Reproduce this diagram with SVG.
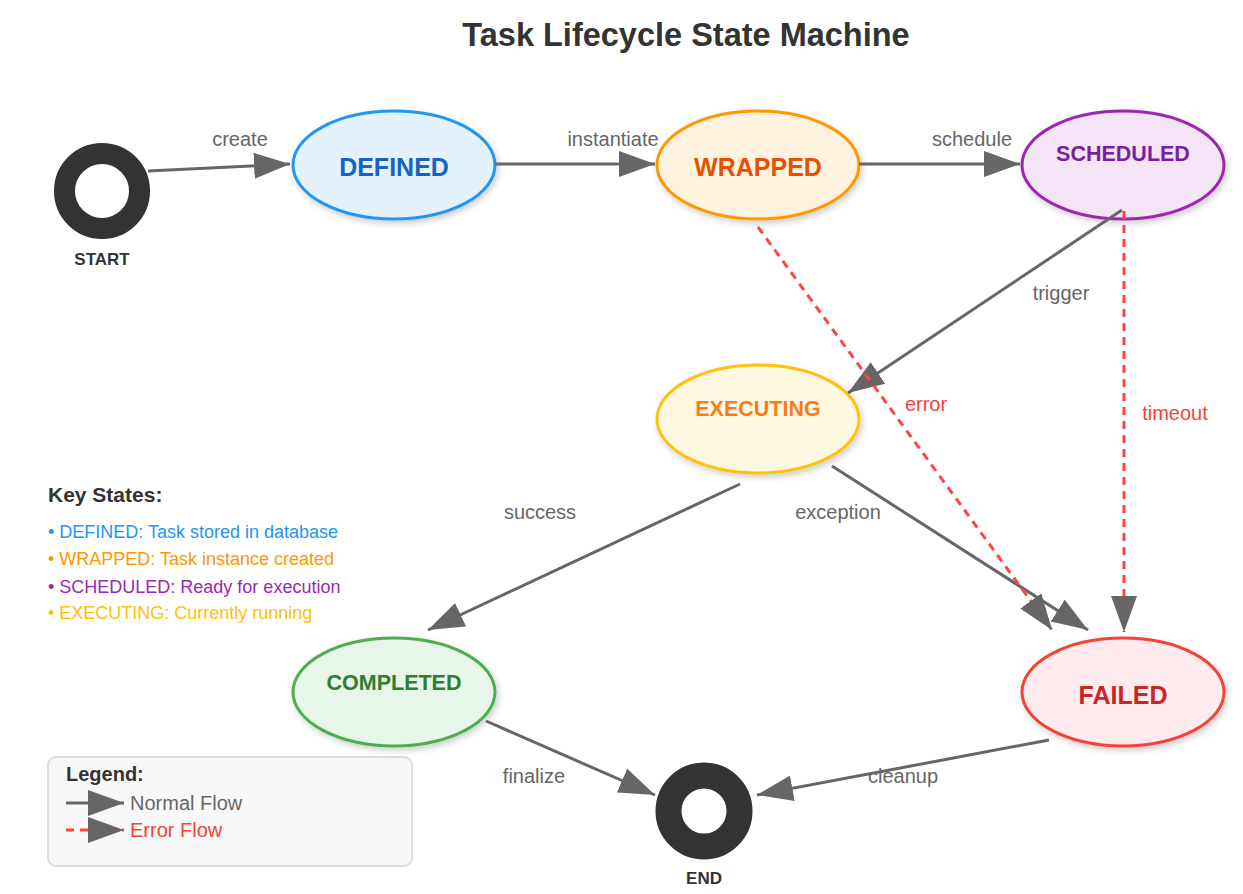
<svg xmlns="http://www.w3.org/2000/svg" width="1243" height="894" viewBox="0 0 1243 894">
<defs>
<marker id="arrow" markerUnits="userSpaceOnUse" markerWidth="36" markerHeight="26" viewBox="0 0 36 26" refX="36" refY="13" orient="auto">
<path d="M0,0 L36,13 L0,26 z" fill="#666"/>
</marker>
<filter id="shadow" x="-20%" y="-20%" width="140%" height="150%">
<feDropShadow dx="2" dy="3" stdDeviation="3" flood-color="#000" flood-opacity="0.2"/>
</filter>
</defs>
<style>
text{font-family:"Liberation Sans",Arial,Helvetica,sans-serif}
.title{font-size:32.5px;font-weight:bold;fill:#333;text-anchor:middle}
.state{stroke-width:3;filter:url(#shadow)}
.sname{font-weight:bold;text-anchor:middle}
.term{font-size:17px;font-weight:bold;fill:#333;text-anchor:middle}
.edge{fill:none;stroke:#666;stroke-width:3}
.err{fill:none;stroke:#ff4444;stroke-width:3;stroke-dasharray:8,6}
.lbl{font-size:20px;fill:#666;text-anchor:middle}
.elbl{font-size:20px;fill:#f44336;text-anchor:middle}
.key{font-size:18px}
</style>
<rect width="1243" height="894" fill="#fff"/>
<text class="title" x="686" y="46">Task Lifecycle State Machine</text>

<g id="start">
<circle cx="102" cy="191" r="37.5" fill="#fff" stroke="#333" stroke-width="21"/>
<text class="term" x="102" y="265">START</text>
</g>
<g id="end">
<circle cx="704" cy="811" r="35.5" fill="#fff" stroke="#333" stroke-width="26"/>
<text class="term" x="704" y="884">END</text>
</g>
<g id="defined">
<ellipse class="state" cx="394" cy="165" rx="101" ry="54" fill="#E3F2FD" stroke="#2196F3"/>
<text class="sname" x="394" y="176" font-size="25" fill="#1565C0">DEFINED</text>
</g>
<g id="wrapped">
<ellipse class="state" cx="758" cy="165" rx="101" ry="54" fill="#FFF3E0" stroke="#FF9800"/>
<text class="sname" x="758" y="176" font-size="25" fill="#E65100">WRAPPED</text>
</g>
<g id="scheduled">
<ellipse class="state" cx="1123" cy="165" rx="101" ry="54" fill="#F3E5F5" stroke="#9C27B0"/>
<text class="sname" x="1123" y="161" font-size="21.5" fill="#7B1FA2">SCHEDULED</text>
</g>
<g id="executing">
<ellipse class="state" cx="758" cy="419" rx="101" ry="54" fill="#FFF8E1" stroke="#FFC107"/>
<text class="sname" x="758" y="416" font-size="21.5" fill="#F57F17">EXECUTING</text>
</g>
<g id="completed">
<ellipse class="state" cx="394" cy="692" rx="101" ry="54" fill="#E8F5E9" stroke="#4CAF50"/>
<text class="sname" x="394" y="690" font-size="21.5" fill="#2E7D32">COMPLETED</text>
</g>
<g id="failed">
<ellipse class="state" cx="1123" cy="692" rx="101" ry="54" fill="#FFEBEE" stroke="#F44336"/>
<text class="sname" x="1123" y="704" font-size="25" fill="#C62828">FAILED</text>
</g>

<g id="connectors">
<line class="edge" x1="148" y1="171" x2="290" y2="164" marker-end="url(#arrow)"/>
<text class="lbl" x="240" y="146">create</text>
<line class="edge" x1="495" y1="164" x2="655" y2="164" marker-end="url(#arrow)"/>
<text class="lbl" x="613" y="146">instantiate</text>
<line class="edge" x1="859" y1="164" x2="1020" y2="164" marker-end="url(#arrow)"/>
<text class="lbl" x="972" y="146">schedule</text>
<line class="edge" x1="1122" y1="210" x2="848" y2="393" marker-end="url(#arrow)"/>
<text class="lbl" x="1061" y="300">trigger</text>
<line class="edge" x1="740" y1="484" x2="428" y2="630" marker-end="url(#arrow)"/>
<text class="lbl" x="540" y="519">success</text>
<line class="edge" x1="832" y1="466" x2="1088" y2="630" marker-end="url(#arrow)"/>
<text class="lbl" x="838" y="519">exception</text>
<line class="edge" x1="486" y1="721" x2="655" y2="795" marker-end="url(#arrow)"/>
<text class="lbl" x="534" y="783">finalize</text>
<line class="edge" x1="1049" y1="740" x2="757" y2="795" marker-end="url(#arrow)"/>
<text class="lbl" x="903" y="783">cleanup</text>
<line class="err" x1="758" y1="227" x2="1052" y2="630" marker-end="url(#arrow)"/>
<text class="elbl" x="926" y="411">error</text>
<line class="err" x1="1124" y1="211" x2="1124" y2="632" marker-end="url(#arrow)"/>
<text class="elbl" x="1175" y="420">timeout</text>
</g>

<g id="key-states">
<text x="48" y="502" font-size="21" font-weight="bold" fill="#333">Key States:</text>
<text class="key" x="48" y="538" fill="#2196F3">• DEFINED: Task stored in database</text>
<text class="key" x="48" y="565" fill="#FF9800">• WRAPPED: Task instance created</text>
<text class="key" x="48" y="593" fill="#9C27B0">• SCHEDULED: Ready for execution</text>
<text class="key" x="48" y="619" fill="#FFC107">• EXECUTING: Currently running</text>
</g>

<g id="legend">
<rect x="48" y="757" width="364" height="109" rx="8" fill="#f8f8f8" stroke="#ddd" stroke-width="2"/>
<text x="66" y="781" font-size="20" font-weight="bold" fill="#333">Legend:</text>
<line class="edge" x1="66" y1="803" x2="124" y2="803" marker-end="url(#arrow)"/>
<text x="130" y="810" font-size="20" fill="#666">Normal Flow</text>
<line class="err" x1="66" y1="830" x2="124" y2="830" marker-end="url(#arrow)"/>
<text x="130" y="837" font-size="20" fill="#f44336">Error Flow</text>
</g>
</svg>
